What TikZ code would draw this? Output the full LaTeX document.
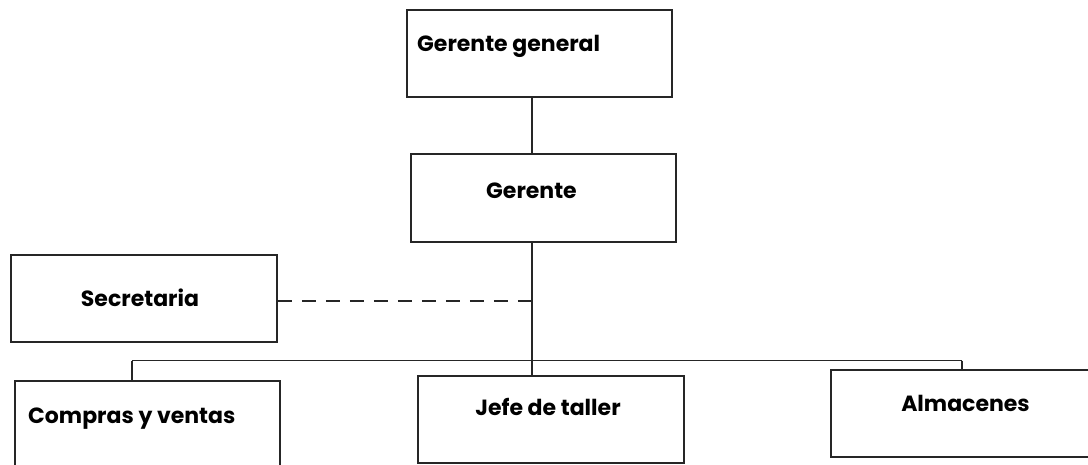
\documentclass[tikz,border=0pt]{standalone}
\usepackage{fontspec}
\setmainfont{Poppins}[BoldFont=* Bold]
\begin{document}
\begin{tikzpicture}[x=1pt,y=-1pt,
  box/.style={draw=black!85, line width=1.8pt, fill=white, rectangle, inner sep=0pt},
  lbl/.style={font=\fontsize{22}{26}\selectfont\bfseries, inner sep=0pt},
  wire/.style={draw=black!85, line width=1.8pt},
  dashwire/.style={wire, dash pattern=on 14pt off 10pt}]
  \useasboundingbox (0,0) rectangle (1088,465);
  \begin{scope}
  \clip (0,0) rectangle (1088,465);

  % boxes
  \node[box, minimum width=265pt, minimum height=87pt] (gg)   at (539.5,53.5)  {};
  \node[box, minimum width=265pt, minimum height=88pt] (ger)  at (543.5,198)   {};
  \node[box, minimum width=266pt, minimum height=87pt] (sec)  at (144,298.5)   {};
  \node[box, minimum width=265pt, minimum height=90pt] (com)  at (147.5,426)   {};
  \node[box, minimum width=266pt, minimum height=87pt] (jefe) at (551,419.5)   {};
  \node[box, minimum width=265pt, minimum height=87pt] (alm)  at (963.5,413.5) {};

  % labels
  \node[lbl, anchor=base west] (tgg)   at (417,52)  {Gerente general};
  \node[lbl, anchor=base]      (tger)  at (531.5,199) {Gerente};
  \node[lbl, anchor=base]      (tsec)  at (140,307) {Secretaria};
  \node[lbl, anchor=base west] (tcom)  at (28,423)  {Compras y ventas};
  \node[lbl, anchor=base]      (tjefe) at (548,415) {Jefe de taller};
  \node[lbl, anchor=base]      (talm)  at (965.5,411) {Almacenes};

  % trunk and branches
  \coordinate (trunk) at (531.7,0);
  \coordinate (bus)   at (0,360.5);
  \coordinate (dashend) at (531.7,300.7);
  \coordinate (lx) at (132,0);
  \coordinate (rx) at (962,0);

  \draw[wire] (gg.south -| trunk) -- (ger.north -| trunk);
  \draw[wire] (ger.south -| trunk) -- (bus -| trunk);
  \draw[wire] (bus -| lx) -- (bus -| rx);
  \draw[wire] (bus -| lx) -- (com.north -| lx);
  \draw[wire] (bus -| trunk) -- (jefe.north -| trunk);
  \draw[wire] (bus -| rx) -- (alm.north -| rx);
  \draw[dashwire] (sec.east |- dashend) -- (dashend);
  \end{scope}
\end{tikzpicture}
\end{document}
